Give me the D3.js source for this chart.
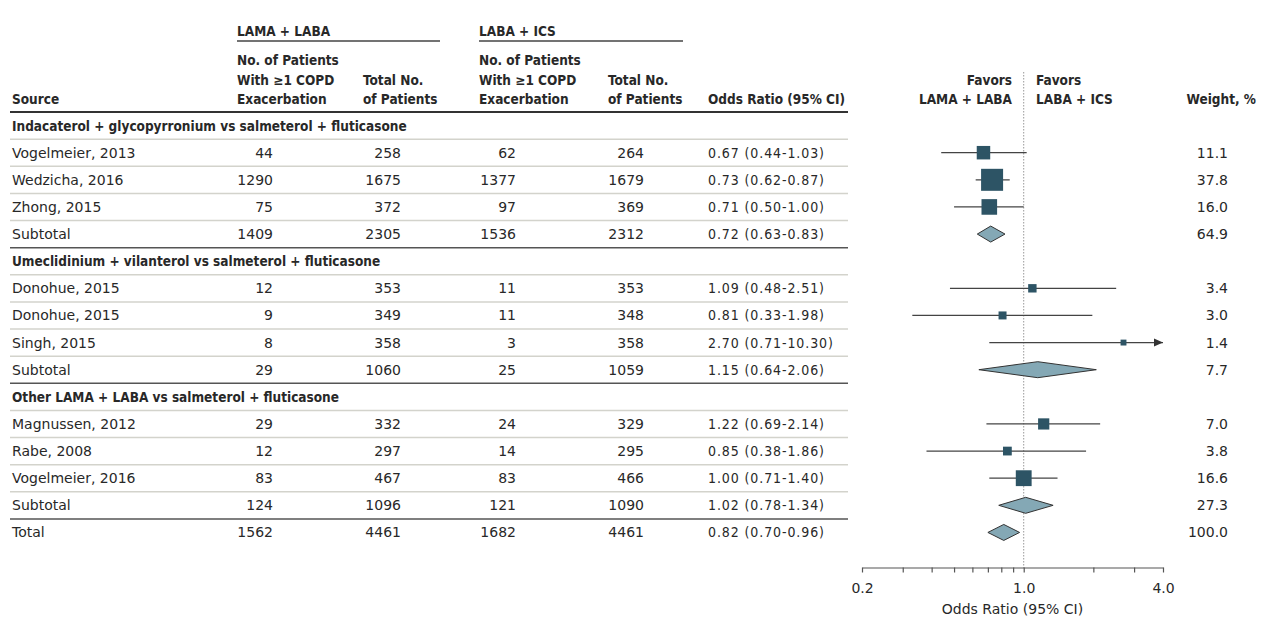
<!DOCTYPE html>
<html lang="en">
<head>
  <meta charset="UTF-8" />
  <title>LAMA + LABA vs LABA + ICS — COPD Exacerbation</title>
  <script src="https://d3js.org/d3.v7.min.js"></script>
  <style>
    body {
      margin: 0;
      background: #fff;
    }
    svg text {
      font-family: "DejaVu Sans", sans-serif;
      font-size: 14px;
      fill: #282828;
    }
    .hdr {
      font-family: "DejaVu Sans Condensed", "DejaVu Sans", sans-serif;
      font-weight: bold;
      font-size: 13.5px;
    }
    .or-text {
      font-family: "DejaVu Sans Condensed", "DejaVu Sans", sans-serif;
      font-size: 14px;
      letter-spacing: 0.9px;
    }
  </style>
</head>
<body>

<svg width="1267" height="621"></svg>

<script>
  // rows of the table, top to bottom
  const rowLabels = [
    "Indacaterol + glycopyrronium vs salmeterol + fluticasone",
    "Vogelmeier, 2013", "Wedzicha, 2016", "Zhong, 2015", "Subtotal",
    "Umeclidinium + vilanterol vs salmeterol + fluticasone",
    "Donohue, 2015", "Donohue, 2015", "Singh, 2015", "Subtotal",
    "Other LAMA + LABA vs salmeterol + fluticasone",
    "Magnussen, 2012", "Rabe, 2008", "Vogelmeier, 2016", "Subtotal",
    "Total"
  ];
  const rowTypes = [
    "group", "study", "study", "study", "subtotal",
    "group", "study", "study", "study", "subtotal",
    "group", "study", "study", "study", "subtotal",
    "total"
  ];
  const lamaEvents = [null, 44, 1290, 75, 1409, null, 12, 9, 8, 29, null, 29, 12, 83, 124, 1562];
  const lamaTotal  = [null, 258, 1675, 372, 2305, null, 353, 349, 358, 1060, null, 332, 297, 467, 1096, 4461];
  const labaEvents = [null, 62, 1377, 97, 1536, null, 11, 11, 3, 25, null, 24, 14, 83, 121, 1682];
  const labaTotal  = [null, 264, 1679, 369, 2312, null, 353, 348, 358, 1059, null, 329, 295, 466, 1090, 4461];
  const oddsRatio  = [null, 0.67, 0.73, 0.71, 0.72, null, 1.09, 0.81, 2.70, 1.15, null, 1.22, 0.85, 1.00, 1.02, 0.82];
  const ciLow      = [null, 0.44, 0.62, 0.50, 0.63, null, 0.48, 0.33, 0.71, 0.64, null, 0.69, 0.38, 0.71, 0.78, 0.70];
  const ciHigh     = [null, 1.03, 0.87, 1.00, 0.83, null, 2.51, 1.98, 10.30, 2.06, null, 2.14, 1.86, 1.40, 1.34, 0.96];
  const weights    = [null, 11.1, 37.8, 16.0, 64.9, null, 3.4, 3.0, 1.4, 7.7, null, 7.0, 3.8, 16.6, 27.3, 100.0];

  const axisTicks = [0.2, 0.3, 0.4, 0.5, 0.6, 0.7, 0.8, 0.9, 1.0, 2.0, 3.0, 4.0];
  const axisLabels = [0.2, 1.0, 4.0];

  const svg = d3.select("svg");
  const ink = "#282828";
  const boxColor = "#2d5465";
  const diamondColor = "#84a8b5";

  // layout
  const tableLeft = 10, tableRight = 848;
  const col = {
    source: 12,
    lamaEv: 273, lamaTot: 401,
    labaEv: 516, labaTot: 644,
    or: 708, weight: 1228
  };

  const y = d3.scaleBand()
    .domain(d3.range(rowLabels.length))
    .range([112, 546]);
  const yc = i => y(i) + y.bandwidth() / 2;

  const x = d3.scaleLog()
    .domain([0.2, 4])
    .range([862, 1163]);

  // box side grows with weight
  const boxSize = d3.scalePow()
    .exponent(0.4)
    .domain([0, 37.8])
    .range([0, 22]);

  const fmt2 = d3.format(".2f");
  const fmt1 = d3.format(".1f");

  // ---- header ----
  const hdr = svg.append("g");
  const hText = (tx, ty, s, anchor) => hdr.append("text")
    .attr("class", "hdr")
    .attr("x", tx).attr("y", ty)
    .attr("text-anchor", anchor || "start")
    .text(s);

  hText(237, 36, "LAMA + LABA");
  hText(479, 36, "LABA + ICS");
  hdr.append("line").attr("x1", 237).attr("x2", 440).attr("y1", 41).attr("y2", 41)
    .attr("stroke", "#444").attr("stroke-width", 1.5);
  hdr.append("line").attr("x1", 479).attr("x2", 683).attr("y1", 41).attr("y2", 41)
    .attr("stroke", "#444").attr("stroke-width", 1.5);

  const hl = [65, 85, 104];
  hText(col.source, hl[2], "Source");
  [237, 479].forEach(cx => {
    hText(cx, hl[0], "No. of Patients");
    hText(cx, hl[1], "With \u22651 COPD");
    hText(cx, hl[2], "Exacerbation");
  });
  [363, 608].forEach(cx => {
    hText(cx, hl[1], "Total No.");
    hText(cx, hl[2], "of Patients");
  });
  hText(col.or, hl[2], "Odds Ratio (95% CI)");
  hText(1012, hl[1], "Favors", "end");
  hText(1012, hl[2], "LAMA + LABA", "end");
  hText(1036, hl[1], "Favors");
  hText(1036, hl[2], "LABA + ICS");
  hText(1256, hl[2], "Weight, %", "end");

  // ---- row separators ----
  const rules = svg.append("g");
  rowLabels.forEach((d, i) => {
    if (i === rowLabels.length - 1) return;
    const dark = rowTypes[i] === "subtotal";
    rules.append("line")
      .attr("x1", tableLeft).attr("x2", tableRight)
      .attr("y1", y(i) + y.bandwidth()).attr("y2", y(i) + y.bandwidth())
      .attr("stroke", dark ? "#555" : "#d3d3cc")
      .attr("stroke-width", 1.5);
  });
  rules.append("line")
    .attr("x1", tableLeft).attr("x2", tableRight)
    .attr("y1", y(0)).attr("y2", y(0))
    .attr("stroke", "#333").attr("stroke-width", 2);

  // ---- table text ----
  const body = svg.append("g");
  rowLabels.forEach((label, i) => {
    const ty = yc(i) + 5;
    const t = rowTypes[i];
    if (t === "group") {
      body.append("text").attr("class", "hdr")
        .attr("x", col.source).attr("y", ty).text(label);
      return;
    }
    body.append("text").attr("x", col.source).attr("y", ty).text(label);
    [[col.lamaEv, lamaEvents[i]], [col.lamaTot, lamaTotal[i]],
     [col.labaEv, labaEvents[i]], [col.labaTot, labaTotal[i]]].forEach(([cx, v]) => {
      body.append("text").attr("x", cx).attr("y", ty)
        .attr("text-anchor", "end").text(v);
    });
    body.append("text").attr("class", "or-text")
      .attr("x", col.or).attr("y", ty)
      .text(`${fmt2(oddsRatio[i])} (${fmt2(ciLow[i])}-${fmt2(ciHigh[i])})`);
    body.append("text").attr("x", col.weight).attr("y", ty)
      .attr("text-anchor", "end").text(fmt1(weights[i]));
  });

  // ---- forest plot ----
  const axisY = 567.5;
  const plot = svg.append("g");

  plot.append("line")
    .attr("x1", x(1)).attr("x2", x(1))
    .attr("y1", 72).attr("y2", axisY)
    .attr("stroke", "#999").attr("stroke-width", 1)
    .attr("stroke-dasharray", "1.5,1.5");

  const xMax = x.domain()[1];
  rowLabels.forEach((label, i) => {
    const t = rowTypes[i];
    if (t === "group") return;
    const cy = yc(i);
    if (t === "study") {
      const hiClipped = ciHigh[i] > xMax;
      plot.append("line")
        .attr("x1", x(ciLow[i])).attr("x2", x(Math.min(ciHigh[i], xMax)))
        .attr("y1", cy).attr("y2", cy)
        .attr("stroke", "#444").attr("stroke-width", 1.2);
      if (hiClipped) {
        const ax = x(xMax);
        plot.append("path")
          .attr("d", `M${ax},${cy} L${ax - 9},${cy - 4} L${ax - 9},${cy + 4} Z`)
          .attr("fill", "#333");
      }
      const s = boxSize(weights[i]);
      plot.append("rect")
        .attr("x", x(oddsRatio[i]) - s / 2).attr("y", cy - s / 2)
        .attr("width", s).attr("height", s)
        .attr("fill", boxColor);
    } else {
      const h = 8;
      plot.append("path")
        .attr("d", `M${x(ciLow[i])},${cy} L${x(oddsRatio[i])},${cy - h} L${x(ciHigh[i])},${cy} L${x(oddsRatio[i])},${cy + h} Z`)
        .attr("fill", diamondColor)
        .attr("stroke", "#333").attr("stroke-width", 1);
    }
  });

  const axis = d3.axisBottom(x)
    .tickValues(axisTicks)
    .tickFormat(d => axisLabels.includes(d) ? d3.format(".1f")(d) : "")
    .tickSize(5)
    .tickSizeOuter(0)
    .tickPadding(11);

  const ax = svg.append("g")
    .attr("transform", `translate(0,${axisY})`)
    .call(axis);
  ax.select(".domain").attr("stroke", "#555").attr("stroke-width", 1.2);
  ax.selectAll(".tick line").attr("stroke", "#555").attr("stroke-width", 1.2);
  ax.selectAll(".tick text")
    .style("font-family", "'DejaVu Sans', sans-serif")
    .style("font-size", "14px")
    .attr("fill", ink);

  svg.append("text")
    .attr("x", (x.range()[0] + x.range()[1]) / 2)
    .attr("y", 614)
    .attr("text-anchor", "middle")
    .text("Odds Ratio (95% CI)");
</script>

</body>
</html>
